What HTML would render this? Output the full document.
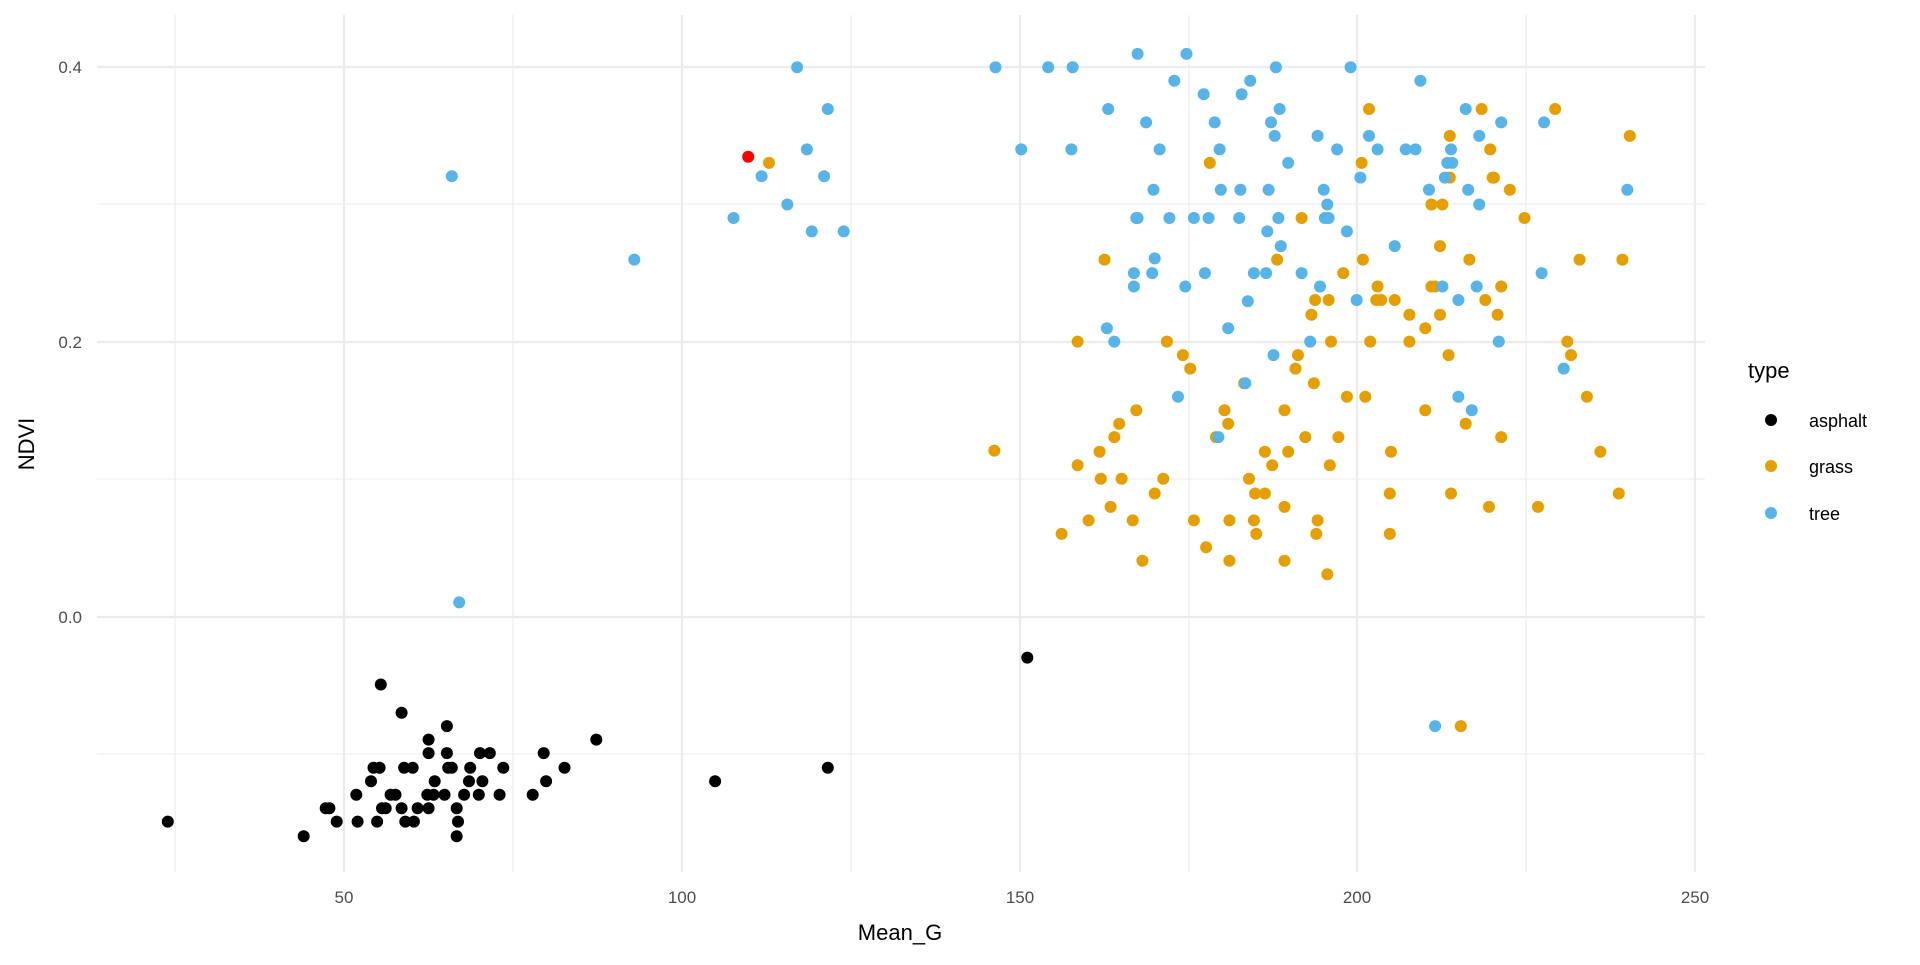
<!DOCTYPE html>
<html><head><meta charset="utf-8"><style>
body{margin:0;background:#fff}
svg text{font-family:"Liberation Sans",sans-serif}
</style></head><body>
<svg id="s" width="1920" height="960" xmlns="http://www.w3.org/2000/svg">
<g stroke="#ebebeb" stroke-width="1.1">
<line x1="175" y1="15" x2="175" y2="872"/><line x1="513" y1="15" x2="513" y2="872"/><line x1="851" y1="15" x2="851" y2="872"/><line x1="1189" y1="15" x2="1189" y2="872"/><line x1="1526" y1="15" x2="1526" y2="872"/>
<line x1="97" y1="204" x2="1705" y2="204"/><line x1="97" y1="479" x2="1705" y2="479"/><line x1="97" y1="754" x2="1705" y2="754"/>
</g>
<g stroke="#ebebeb" stroke-width="2.2">
<line x1="344" y1="15" x2="344" y2="872"/><line x1="682" y1="15" x2="682" y2="872"/><line x1="1020" y1="15" x2="1020" y2="872"/><line x1="1357" y1="15" x2="1357" y2="872"/><line x1="1695" y1="15" x2="1695" y2="872"/>
<line x1="97" y1="67" x2="1705" y2="67"/><line x1="97" y1="342" x2="1705" y2="342"/><line x1="97" y1="617" x2="1705" y2="617"/>
</g>
<g fill="#4d4d4d" font-size="17">
<text x="344" y="903" text-anchor="middle">50</text><text x="682" y="903" text-anchor="middle">100</text><text x="1020" y="903" text-anchor="middle">150</text><text x="1357" y="903" text-anchor="middle">200</text><text x="1695" y="903" text-anchor="middle">250</text>
<text x="82" y="73" text-anchor="end">0.4</text><text x="82" y="348" text-anchor="end">0.2</text><text x="82" y="623" text-anchor="end">0.0</text>
</g>
<text x="900" y="940" text-anchor="middle" font-size="22" fill="#000">Mean_G</text>
<text transform="translate(34,444) rotate(-90)" text-anchor="middle" font-size="22" fill="#000">NDVI</text>
<text x="1748" y="378" font-size="22" fill="#000">type</text>
<circle cx="1771" cy="420" r="6" fill="#000"/><text x="1809" y="427" font-size="18">asphalt</text>
<circle cx="1771" cy="466" r="6" fill="#E69F00"/><text x="1809" y="473" font-size="18">grass</text>
<circle cx="1771" cy="513" r="6" fill="#56B4E9"/><text x="1809" y="520" font-size="18">tree</text>
<g id="pts"></g>
</svg>
<script>
var k=1920/1568;
var A=[[137,671],[248,683],[311,559],[328,582],[365,593],[350,604],[487,604],[444,615],[400,615],[392,615],[350,615],[365,615],[310,627],[305,627],[330,627],[337,627],[366,627],[369,627],[384,627],[411,627],[461,627],[676,627],[303,638],[355,638],[383,638],[394,638],[446,638],[584,638],[291,649],[319,649],[323,649],[349,649],[354,649],[363,649],[379,649],[391,649],[408,649],[435,649],[266,660],[269,660],[312,660],[315,660],[328,660],[341,660],[350,660],[373,660],[275,671],[292,671],[308,671],[331,671],[338,671],[374,671],[373,683],[839,537]];
var T=[[369,144],[375,492],[518,212],[599,178],[622,144],[643,167],[651,55],[659,122],[663,189],[673,144],[676,89],[689,189],[813,55],[834,122],[856,55],[876,55],[875,122],[905,89],[904,268],[910,279],[926,223],[926,234],[928,178],[929,178],[929,44],[936,100],[942,155],[943,211],[941,223],[947,122],[955,178],[959,66],[962,324],[968,234],[969,44],[975,178],[983,77],[984,223],[987,178],[992,100],[996,122],[997,155],[1003,268],[1012,178],[1013,155],[1014,77],[1017,313],[1019,246],[1021,66],[1024,223],[1034,223],[1035,189],[1036,155],[1038,100],[1040,290],[1041,111],[1042,55],[1044,178],[1045,89],[1046,201],[1052,133],[1063,223],[1070,279],[1076,111],[1078,234],[1081,155],[1082,178],[1084,167],[1085,178],[1092,122],[1100,189],[1103,55],[1108,245],[1111,145],[1118,111],[1125,122],[1139,201],[1148,122],[1156,122],[1160,66],[1167,155],[1172,593],[1178,234],[1180,145],[1182,133],[1185,122],[1186,133],[1191,245],[1191,324],[1197,89],[1199,155],[1202,335],[1206,234],[1208,111],[1208,167],[1224,279],[1226,100],[1259,223],[1261,100],[1277,301],[1329,155],[995,357]];
var G=[[628,133],[812,368],[867,436],[880,279],[880,380],[889,425],[898,369],[899,391],[902,212],[907,414],[910,357],[914,346],[916,391],[925,425],[928,335],[933,458],[943,403],[950,391],[953,279],[966,290],[972,301],[975,425],[985,447],[988,133],[993,357],[1000,335],[1003,346],[1004,425],[1004,458],[1016,313],[1020,391],[1024,425],[1025,403],[1026,436],[1033,369],[1033,403],[1039,380],[1043,212],[1049,414],[1049,335],[1049,458],[1052,369],[1058,301],[1060,290],[1063,178],[1066,357],[1071,257],[1073,313],[1074,245],[1075,436],[1076,425],[1085,245],[1087,279],[1086,380],[1084,469],[1093,357],[1097,223],[1100,324],[1112,133],[1113,212],[1115,324],[1118,89],[1119,279],[1124,245],[1125,234],[1128,245],[1136,369],[1135,403],[1135,436],[1139,245],[1151,257],[1151,279],[1164,268],[1164,335],[1169,167],[1169,234],[1172,234],[1176,201],[1176,257],[1178,167],[1183,290],[1184,111],[1184,145],[1185,403],[1193,593],[1197,346],[1200,212],[1210,89],[1213,245],[1216,414],[1217,122],[1219,145],[1220,145],[1223,257],[1226,234],[1226,357],[1233,155],[1245,178],[1256,414],[1270,89],[1280,279],[1283,290],[1290,212],[1296,324],[1307,369],[1322,403],[1325,212],[1331,111]];
var h='';
function add(arr,c){arr.forEach(function(p){h+='<circle cx="'+(p[0]*k).toFixed(1)+'" cy="'+(p[1]*k).toFixed(1)+'" r="6" fill="'+c+'"/>';});}
add(A,'#000');add(G,'#E69F00');add(T,'#56B4E9');add([[611,128]],'#FF0000');
document.getElementById('pts').innerHTML=h;
</script>
</body></html>
